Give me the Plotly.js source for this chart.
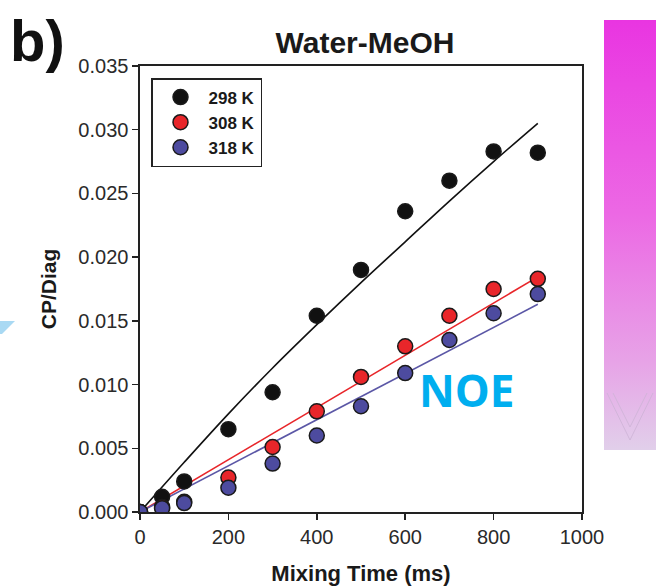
<!DOCTYPE html>
<html>
<head>
<meta charset="utf-8">
<script src="https://cdn.plot.ly/plotly-3.0.1.min.js"></script>
<style>html,body{margin:0;padding:0;background:#fff;}#chart{width:658px;height:588px;}</style>
</head>
<body>
<div id="chart"></div>
<script>
// ---- data ----
const mixingTime = [0, 50, 100, 200, 300, 400, 500, 600, 700, 800, 900];
const cp298 = [0.0000, 0.0012, 0.0024, 0.0065, 0.0094, 0.0154, 0.0190, 0.0236, 0.0260, 0.0283, 0.0282];
const cp308 = [0.0000, 0.0004, 0.0008, 0.0027, 0.0051, 0.0079, 0.0106, 0.0130, 0.0154, 0.0175, 0.0183];
const cp318 = [0.0000, 0.0003, 0.0007, 0.0019, 0.0038, 0.0060, 0.0083, 0.0109, 0.0135, 0.0156, 0.0171];
const fitTime298 = [0, 100, 200, 300, 400, 500, 600, 700, 800, 900];
const fit298 = [0.0000, 0.0039, 0.0077, 0.0113, 0.0147, 0.0180, 0.0212, 0.0244, 0.0275, 0.0305];
const fitTimeLin = [0, 900];
const fit308 = [0.0000, 0.01845];
const fit318 = [0.0000, 0.0163];
const seriesNames = ["298 K", "308 K", "318 K"];
const xTicks = [0, 200, 400, 600, 800, 1000];
const yTicks = [0, 0.005, 0.010, 0.015, 0.020, 0.025, 0.030, 0.035];

// ---- layout helpers (pixel -> paper) ----
const L = 140, R = 582, T = 66, B = 512;
const px = v => (v - L) / (R - L);
const py = v => (B - v) / (B - T);

const FONT = "Arial, 'Liberation Sans', sans-serif";
const cBlack = "#111111", cRed = "#e8262a", cBlue = "#4d4b9f";
const mline = {color: "#1a1a1a", width: 1.5};

const traces = [
  {x: fitTime298, y: fit298, mode: "lines", line: {color: cBlack, width: 1.6, shape: "spline", smoothing: 1}, showlegend: false, hoverinfo: "skip"},
  {x: fitTimeLin, y: fit308, mode: "lines", line: {color: cRed, width: 1.6}, showlegend: false, hoverinfo: "skip"},
  {x: fitTimeLin, y: fit318, mode: "lines", line: {color: "#5b57a6", width: 1.6}, showlegend: false, hoverinfo: "skip"},
  {x: mixingTime, y: cp298, mode: "markers", name: "<b>" + seriesNames[0] + "</b>", marker: {size: 15, color: cBlack, line: mline}},
  {x: mixingTime, y: cp308, mode: "markers", name: "<b>" + seriesNames[1] + "</b>", marker: {size: 15, color: cRed, line: mline}},
  {x: mixingTime, y: cp318, mode: "markers", name: "<b>" + seriesNames[2] + "</b>", marker: {size: 15, color: cBlue, line: mline}}
];

const gradSvg = '<svg xmlns="http://www.w3.org/2000/svg" width="52" height="430" viewBox="0 0 52 430" preserveAspectRatio="none">' +
  '<defs><linearGradient id="g" x1="0" y1="0" x2="0" y2="1">' +
  '<stop offset="0" stop-color="#e935e1"/><stop offset="0.45" stop-color="#ec68e4"/>' +
  '<stop offset="0.8" stop-color="#e7a4e7"/><stop offset="1" stop-color="#e1cfea"/></linearGradient></defs>' +
  '<rect width="52" height="430" fill="url(#g)"/>' +
  '<polyline points="3,373 26,420 49,373" fill="none" stroke="#cdb2d6" stroke-width="0.8"/>' +
  '<polyline points="9,373 26,407 43,373" fill="none" stroke="#cdb2d6" stroke-width="0.8"/>' +
  '</svg>';

const layout = {
  width: 658, height: 588,
  paper_bgcolor: "#ffffff", plot_bgcolor: "#ffffff",
  margin: {l: L, r: 658 - R, t: T, b: 588 - B, pad: 0},
  font: {family: FONT, color: "#222"},
  title: {text: "<b>Water-MeOH</b>", font: {size: 30, color: "#1a1a1a", family: FONT},
          x: px(365), xref: "paper", xanchor: "center", y: 1 - 42 / 588, yref: "container", yanchor: "middle"},
  xaxis: {range: [0, 1000], tickvals: xTicks, ticktext: xTicks.map(String), ticks: "outside", ticklen: 6, tickwidth: 1.5,
          tickcolor: "#222", showline: true, linecolor: "#222", linewidth: 1.6, mirror: true, showgrid: false, zeroline: false,
          tickfont: {size: 20, color: "#2a2a2a", family: FONT},
          title: {text: "<b>Mixing Time (ms)</b>", font: {size: 22, color: "#1a1a1a", family: FONT}, standoff: 19}},
  yaxis: {range: [0, 0.035], tickvals: yTicks, ticktext: yTicks.map(v => v.toFixed(3)), ticks: "outside", ticklen: 6, tickwidth: 1.5,
          tickcolor: "#222", showline: true, linecolor: "#222", linewidth: 1.6, mirror: true, showgrid: false, zeroline: false,
          tickfont: {size: 20, color: "#2a2a2a", family: FONT},
          title: {text: "<b>CP/Diag</b>", font: {size: 21, color: "#1a1a1a", family: FONT}, standoff: 16}},
  showlegend: true,
  legend: {x: px(151), y: py(78), xanchor: "left", yanchor: "top", bordercolor: "#222", borderwidth: 1.5,
           bgcolor: "#ffffff", font: {size: 17, color: "#1a1a1a", family: FONT}, tracegroupgap: 0, itemwidth: 46},
  annotations: [
    {text: "<b>b)</b>", xref: "paper", yref: "paper", x: px(8), y: py(41), xanchor: "left", yanchor: "middle",
     showarrow: false, font: {size: 58, color: "#111", family: FONT}},
    {text: "<b>NOE</b>", xref: "paper", yref: "paper", x: px(466), y: py(390), xanchor: "center", yanchor: "middle",
     showarrow: false, font: {size: 44, color: "#00aeef", family: "'Open Sans', Roboto, sans-serif"}}
  ],
  shapes: [
    {type: "path", xref: "paper", yref: "paper", layer: "below",
     path: "M " + px(0) + " " + py(321) + " L " + px(15) + " " + py(321) + " L " + px(2) + " " + py(334) + " L " + px(0) + " " + py(334) + " Z",
     fillcolor: "#a9d9f3", line: {width: 0}}
  ],
  images: [
    {source: "data:image/svg+xml;charset=utf-8," + encodeURIComponent(gradSvg), xref: "paper", yref: "paper",
     x: px(604), y: py(20), sizex: px(656) - px(604), sizey: py(20) - py(450), xanchor: "left", yanchor: "top",
     sizing: "stretch", layer: "below"}
  ]
};

Plotly.newPlot("chart", traces, layout, {displayModeBar: false, staticPlot: true});
</script>
</body>
</html>
